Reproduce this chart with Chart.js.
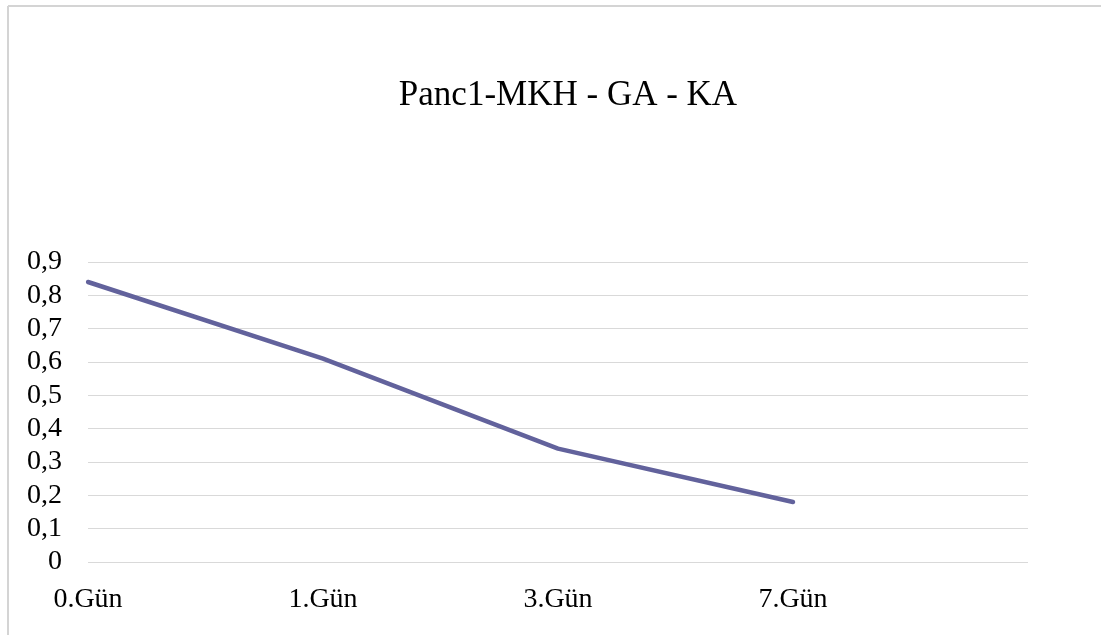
<!DOCTYPE html>
<html>
<head>
<meta charset="utf-8">
<script src="https://cdn.jsdelivr.net/npm/chart.js@4.4.1/dist/chart.umd.min.js"></script>
<style>
  html, body { margin: 0; padding: 0; background: #ffffff; overflow: hidden; }
  #wrap { position: absolute; left: 0; top: 0; width: 1101px; height: 635px; }
</style>
</head>
<body>
<div id="wrap"><canvas id="chart" width="1101" height="635"></canvas></div>
<script>
// Measurement days and the series values
const categories = ['0.Gün', '1.Gün', '3.Gün', '7.Gün', ''];
const seriesValues = [0.84, 0.61, 0.34, 0.18, null];
const yTickLabels = ['0', '0,1', '0,2', '0,3', '0,4', '0,5', '0,6', '0,7', '0,8', '0,9'];
const chartTitle = 'Panc1-MKH - GA - KA';

const serif = '"Liberation Serif", "Times New Roman", serif';

// Frame lines and the centred title text
const framePlugin = {
  id: 'frame',
  beforeDraw(chart) {
    const ctx = chart.ctx;
    ctx.save();
    ctx.fillStyle = '#ffffff';
    ctx.fillRect(0, 0, chart.width, chart.height);
    ctx.strokeStyle = '#d4d4d4';
    ctx.lineWidth = 2;
    ctx.beginPath();
    ctx.moveTo(8, 6);
    ctx.lineTo(chart.width, 6);
    ctx.moveTo(8, 6);
    ctx.lineTo(8, chart.height);
    ctx.stroke();
    ctx.restore();
  },
  afterDraw(chart) {
    const ctx = chart.ctx;
    ctx.save();
    ctx.font = '35px ' + serif;
    ctx.fillStyle = '#000000';
    ctx.textAlign = 'center';
    ctx.textBaseline = 'alphabetic';
    ctx.fillText(chartTitle, 568, 105);
    ctx.restore();
  }
};

new Chart(document.getElementById('chart'), {
  type: 'line',
  data: {
    labels: categories,
    datasets: [{
      data: seriesValues,
      borderColor: '#62629c',
      borderWidth: 4.5,
      borderCapStyle: 'round',
      borderJoinStyle: 'round',
      pointRadius: 0,
      pointHoverRadius: 0,
      tension: 0,
      fill: false
    }]
  },
  options: {
    responsive: false,
    animation: false,
    events: [],
    layout: { padding: { top: 262, right: 73, bottom: 0, left: 0 } },
    plugins: {
      legend: { display: false },
      title: { display: false },
      tooltip: { enabled: false }
    },
    scales: {
      x: {
        offset: false,
        grid: { display: false, drawTicks: false },
        border: { display: false },
        ticks: {
          autoSkip: false,
          maxRotation: 0,
          minRotation: 0,
          padding: 21,
          color: '#000000',
          font: { family: serif, size: 28 }
        },
        afterFit(scale) { scale.height = 73; }
      },
      y: {
        min: 0,
        max: 0.9,
        grid: { color: '#d9d9d9', lineWidth: 1, drawTicks: false },
        border: { display: false },
        ticks: {
          autoSkip: false,
          stepSize: 0.1,
          padding: 26,
          color: '#000000',
          font: { family: serif, size: 28 },
          callback: (value, index) => yTickLabels[index]
        },
        afterFit(scale) { scale.width = 88; }
      }
    }
  },
  plugins: [framePlugin]
});
</script>
</body>
</html>
